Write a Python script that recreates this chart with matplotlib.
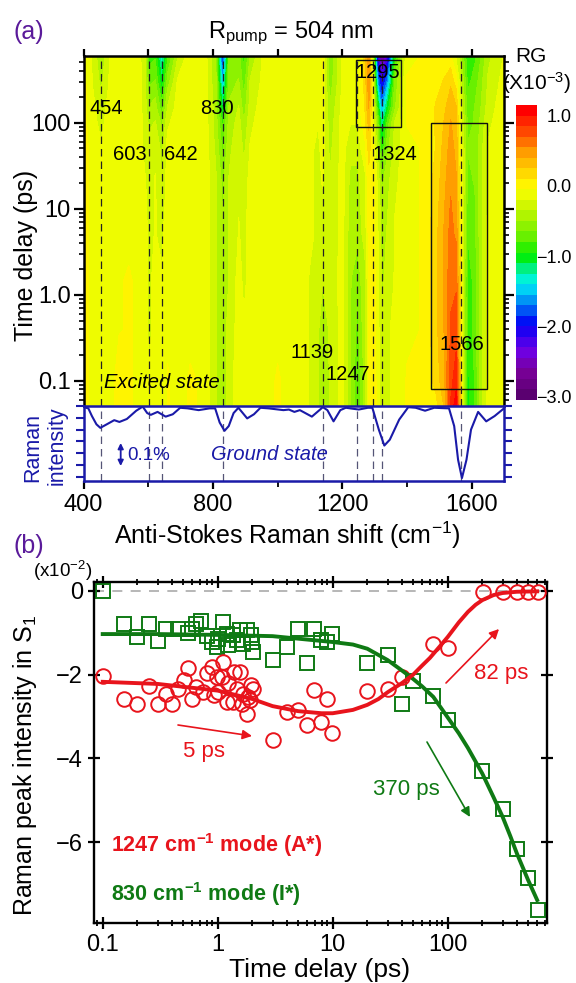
import numpy as np
import matplotlib
matplotlib.use('Agg')
import matplotlib.pyplot as plt
from matplotlib.colors import LinearSegmentedColormap
from matplotlib.patches import Rectangle
from matplotlib.ticker import FixedLocator, LogLocator, NullFormatter

plt.rcParams['font.family'] = ['Liberation Sans', 'DejaVu Sans']
plt.rcParams['mathtext.fontset'] = 'custom'
plt.rcParams['mathtext.rm'] = 'Liberation Sans'
plt.rcParams['mathtext.it'] = 'Liberation Sans:italic'
plt.rcParams['mathtext.bf'] = 'Liberation Sans:bold'

W, H = 576, 983

# panel (a) map, values in units of 1e-3
shift_nodes = [400, 425, 454, 480, 510, 540, 570, 590, 603, 622, 642, 660, 690, 730, 770, 810, 830, 850, 880, 896,
               915, 960, 1000, 1050, 1100, 1125, 1139, 1162, 1200, 1225, 1247, 1270, 1282, 1296, 1310, 1322, 1340,
               1362, 1400, 1450, 1490, 1515, 1535, 1552, 1566, 1588, 1610, 1630, 1650, 1700]
delay_nodes = [0.05, 0.1, 0.4, 1.5, 5, 20, 50, 100, 150, 300, 600]
rg_005 = [-.05, -.1, -.15, -.1, -.05, -.05, -.1, -.2, -.25, -.2, -.25, -.1, -.1, -.05, -.1, -.3, -.5, -.25, -.1, -.2,
          -.15, -.1, -.1, -.1, -.2, -.35, -.5, -.35, -.15, -.45, -.85, -.4, -.1, -.05, -.15, -.35, -.2,
          -.1, -.05, -.05, 0, .2, .8, 1.05, .1, -1.05, -.85, -.35, -.12, -.1]
rg_01 = [-.05, -.1, -.15, -.1, -.05, -.05, -.1, -.2, -.25, -.2, -.25, -.1, -.1, -.05, -.1, -.3, -.5, -.25, -.1, -.2,
         -.15, -.1, -.1, -.1, -.2, -.35, -.5, -.35, -.15, -.45, -.85, -.4, -.1, -.05, -.15, -.35, -.2,
         -.1, -.05, -.05, .1, .3, .75, .85, .1, -1.05, -.85, -.35, -.12, -.1]
rg_04 = [-.05, -.1, -.2, -.1, -.1, -.05, -.1, -.2, -.3, -.2, -.25, -.15, -.1, -.1, -.1, -.3, -.5, -.25, -.15, -.25,
         -.15, -.1, -.15, -.1, -.2, -.35, -.45, -.35, -.15, -.45, -.75, -.35, -.1, -.05, -.2, -.4, -.2,
         -.1, -.1, -.05, .15, .35, .65, .7, .05, -.95, -.8, -.35, -.12, -.1]
rg_15 = [-.05, -.1, -.2, -.1, -.1, -.05, -.1, -.2, -.3, -.2, -.25, -.15, -.1, -.1, -.1, -.3, -.55, -.3, -.15, -.3,
         -.15, -.1, -.15, -.1, -.2, -.35, -.4, -.3, -.15, -.45, -.65, -.35, -.1, -.05, -.2, -.45, -.25,
         -.15, -.1, -.05, .15, .35, .6, .6, 0, -.95, -.8, -.35, -.12, -.1]
rg_5 = [-.05, -.1, -.2, -.1, -.1, -.1, -.1, -.2, -.3, -.25, -.3, -.15, -.1, -.1, -.1, -.3, -.55, -.3, -.2, -.3,
        -.15, -.1, -.15, -.1, -.15, -.25, -.3, -.35, -.15, -.4, -.5, -.25, -.05, -.05, -.25, -.45, -.3,
        -.15, -.1, -.05, .15, .35, .55, .45, -.05, -.85, -.75, -.35, -.12, -.1]
rg_20 = [-.05, -.1, -.2, -.1, -.1, -.1, -.15, -.25, -.3, -.25, -.4, -.2, -.1, -.1, -.1, -.3, -.6, -.3, -.25, -.35,
         -.15, -.1, -.15, -.1, -.15, -.25, -.25, -.35, -.15, -.35, -.45, -.2, 0, -.05, -.3, -.6, -.35,
         -.2, -.1, -.05, .1, .3, .45, .35, -.1, -.75, -.7, -.35, -.15, -.1]
rg_50 = [-.05, -.1, -.25, -.1, -.1, -.1, -.15, -.3, -.35, -.3, -.45, -.2, -.1, -.1, -.1, -.35, -.75, -.35, -.25, -.45,
         -.2, -.1, -.15, -.1, -.15, -.25, -.2, -.4, -.15, -.25, -.35, -.05, .1, -.1, -.5, -1.0, -.5,
         -.25, -.1, -.05, .05, .25, .4, .3, -.15, -.7, -.7, -.35, -.15, -.1]
rg_100 = [-.05, -.15, -.3, -.15, -.1, -.1, -.15, -.3, -.45, -.4, -.6, -.3, -.1, -.1, -.1, -.4, -.9, -.4, -.3, -.55,
          -.25, -.1, -.15, -.1, -.15, -.2, -.15, -.45, -.15, -.15, -.25, .1, .25, -.2, -.7, -1.35, -.7,
          -.3, -.05, 0, .05, .2, .35, .25, -.2, -.75, -.7, -.4, -.2, -.1]
rg_150 = [-.05, -.15, -.35, -.15, -.1, -.1, -.15, -.35, -.55, -.5, -.8, -.4, -.15, -.1, -.1, -.4, -1.2, -.45, -.35, -.65,
          -.3, -.1, -.15, -.1, -.15, -.2, -.15, -.5, -.15, -.1, -.2, .15, .35, -.25, -1.0, -1.7, -1.0,
          -.5, -.05, 0, .05, .15, .3, .2, -.25, -.8, -.7, -.45, -.25, -.1]
rg_300 = [-.05, -.2, -.45, -.2, -.1, -.1, -.15, -.35, -.75, -.7, -1.15, -.65, -.2, -.1, -.1, -.45, -1.6, -.5, -.5, -.8,
          -.35, -.15, -.2, -.1, -.1, -.2, -.1, -.6, -.2, -.1, -.2, .2, .45, -.3, -1.7, -2.2, -1.6,
          -.6, -.05, 0, 0, .05, .15, -.05, -.35, -.9, -.8, -.5, -.3, -.15]
rg_600 = [-.05, -.2, -.55, -.2, -.1, -.1, -.15, -.4, -.95, -.9, -1.45, -.9, -.4, -.1, -.1, -.5, -2.1, -.6, -.6, -.95,
          -.5, -.15, -.2, -.1, -.1, -.2, -.1, -.65, -.2, -.1, -.25, .2, .45, -.5, -2.4, -2.8, -2.3,
          -.9, -.1, -.05, -.05, -.05, -.1, -.3, -.5, -1.0, -.9, -.6, -.35, -.2]
# second pass over the columns, the faint green stripes were read too weak
column_adj = [.06, .01, .06, .01, .04, .01, .03, .06, .06, .06, .06, .06, .01, .01, .04, -.04, .06, -.04, .01, .06,
              .01, .01, .06, .01, -.01, .01, .06, .01, .01, -.04, .06, -.04, .06, .06, .06, .06, -.04,
              -.04, .01, .01, .06, .06, .06, .06, .06, .06, .06, -.04, -.04, .01]

# ground state spectrum, depth in tick steps below the top of the strip
gs_shift = [400, 415, 426, 440, 452, 472, 495, 511, 534, 563, 583, 597, 608, 629, 654, 676, 699, 722, 756, 790, 807,
            821, 836, 849, 864, 879, 906, 927, 947, 972, 1018, 1035, 1052, 1069, 1106, 1140, 1154, 1173, 1194, 1211,
            1251, 1279, 1293, 1313, 1330, 1347, 1376, 1404, 1427, 1456, 1484, 1530, 1546, 1558, 1570, 1584, 1598,
            1620, 1645, 1671, 1700]
gs_depth = [.1, .2, .85, 1.55, 1.85, 1.55, 1.2, 1.35, 1.1, .4, .05, .6, .75, .5, .9, .7, .15, .2, .35, .2, .2,
            1.4, 2.1, 1.7, .6, .15, 1.05, .7, .15, .2, .35, .3, .5, .35, .9, .1, .35, 1.3, .35, .15,
            .3, .15, .15, 2.0, 3.35, 2.85, 1.15, .1, .15, .4, .15, .2, 1.7, 4.55, 6.1, 4.55, 2.0,
            .5, 1.3, .85, .2]
mode_shifts = [454, 603, 642, 830, 1139, 1247, 1295, 1324, 1566]

# panel (b)
red_t = [.1, .153, .2, .255, .305, .353, .403, .455, .51, .556, .6, .648, .75, .8, .887, .93, .98, 1.01, 1.12, 1.08,
         1.2, 1.24, 1.39, 1.37, 1.46, 1.56, 1.62, 1.67, 1.79, 1.85, 1.94, 2.01, 1.91, 3.0, 3.98, 5.03, 5.93, 6.9,
         7.9, 8.87, 9.87, 20, 30, 40, 75, 100, 201, 301, 400, 500, 608]
red_v = [-2.04, -2.59, -2.70, -2.27, -2.69, -2.45, -2.70, -2.33, -2.13, -1.85, -2.57, -2.29, -2.41, -1.97, -1.81,
         -2.49, -2.05, -2.41, -1.69, -2.05, -2.65, -2.21, -1.93, -2.65, -2.33, -1.93, -2.69, -2.45, -2.94, -2.53,
         -2.25, -2.33, -2.61, -3.56, -2.90, -2.85, -3.19, -2.37, -3.14, -2.57, -3.40, -2.39, -2.33, -2.05, -1.27,
         -1.36, -.02, -.02, -.02, -.02, -.02]
green_t = [.1, .153, .2, .255, .305, .353, .455, .556, .6, .648, .71, .8, .887, .98, 1.12, 1.01, 1.2, 1.24, 1.37,
           1.56, 1.67, 1.8, 1.94, 2.04, 1.98, 1.46, 3.0, 3.98, 5.03, 5.93, 6.9, 7.9, 8.87, 9.87, 20, 30, 40, 50, 75,
           100, 200, 300, 400, 500, 608]
green_v = [-.01, -.80, -1.10, -.78, -1.20, -.91, -.91, -1.0, -.90, -.80, -.72, -1.08, -1.22, -1.35, -.74, -1.14,
           -1.02, -1.30, -1.06, -.94, -1.26, -.94, -1.06, -1.46, -1.22, -1.18, -1.64, -1.35, -.90, -1.72, -.90,
           -1.18, -1.22, -1.02, -1.72, -1.54, -2.69, -2.15, -2.51, -3.09, -4.30, -5.21, -6.17, -6.85, -7.62]
red_fit_t = [.1, .3, 1, 2, 3, 5, 8, 10, 15, 20, 25, 30, 40, 50, 60, 70, 85, 100, 125, 150, 175, 200, 250, 300, 400, 600]
red_fit_v = [-2.17, -2.22, -2.38, -2.58, -2.75, -2.87, -2.92, -2.92, -2.84, -2.72, -2.58, -2.42, -2.2, -2.0, -1.78,
             -1.6, -1.33, -1.1, -.75, -.5, -.33, -.22, -.1, -.05, -.02, -.01]
green_fit_t = [.1, .3, 1, 3, 10, 15, 20, 30, 40, 50, 60, 75, 100, 125, 150, 200, 250, 300, 350, 400, 500, 600]
green_fit_v = [-1.03, -1.03, -1.05, -1.08, -1.22, -1.28, -1.38, -1.65, -1.9, -2.1, -2.28, -2.53, -3.02, -3.4, -3.75,
               -4.36, -4.92, -5.39, -5.85, -6.27, -6.9, -7.38]

RED = '#e8141c'
GREEN = '#0f7a14'
BLUE = '#1a1aa8'
PURPLE = '#5a1a9a'


def box(l, t, r, b):
    return [l / W, 1 - b / H, (r - l) / W, (b - t) / H]


def px(x, y):
    return x / W, 1 - y / H


fig = plt.figure(figsize=(W / 100, H / 100), dpi=100)
ax_map = fig.add_axes(box(83.5, 56, 504, 406))
ax_gs = fig.add_axes(box(83.5, 406, 504, 481))
cax = fig.add_axes(box(516, 105, 537, 400))
ax_b = fig.add_axes(box(94.3, 581.7, 546.7, 922.7))

# rainbow map with stepped levels as on the bar
anchors = [(-3.05, '#5a0070'), (-2.7, '#7a0098'), (-2.4, '#6e00e6'), (-2.0, '#0000f5'), (-1.7, '#0082f5'),
           (-1.4, '#00f5f5'), (-1.2, '#00f08c'), (-1.0, '#00ee00'), (-.7, '#6ef000'), (-.3, '#c8f500'),
           (0, '#ffff00'), (.2, '#ffdc00'), (.5, '#ffa500'), (.8, '#ff5000'), (1.15, '#ff0000')]
stops = [min(1.0, max(0.0, round((v + 3.05) / 4.2, 6))) for v, c in anchors]
cmap = LinearSegmentedColormap.from_list('rg', list(zip(stops, [c for v, c in anchors])), N=28)
levels = np.linspace(-3.05, 1.15, 29)
rg = np.array([rg_005, rg_01, rg_04, rg_15, rg_5, rg_20, rg_50, rg_100, rg_150, rg_300, rg_600]) + np.array(column_adj)
cf = ax_map.contourf(shift_nodes, delay_nodes, rg, levels=levels, cmap=cmap)
ax_map.set_yscale('log')
ax_map.set_xlim(400, 1700)
ax_map.set_ylim(0.0508, 594)

for s in mode_shifts:
    ax_map.axvline(s, color='#222222', lw=0.9, dashes=(6, 4))
    ax_gs.axvline(s, color='#555577', lw=0.9, dashes=(6, 4))

ax_map.add_patch(Rectangle((1241, 89.6), 140, 535 - 89.6, fill=False, ec='#111111', lw=1))
ax_map.add_patch(Rectangle((1475, 0.08), 171, 100 - 0.08, fill=False, ec='#111111', lw=1))

ax_map.xaxis.set_major_locator(FixedLocator([400, 600, 800, 1000, 1200, 1400, 1600]))
ax_map.xaxis.tick_top()
ax_map.tick_params(axis='x', labeltop=False, length=5, width=1.6, direction='out')
ax_map.yaxis.set_major_locator(FixedLocator([0.1, 1, 10, 100]))
ax_map.set_yticklabels(['0.1', '1.0', '10', '100'])
ax_map.yaxis.set_minor_locator(LogLocator(base=10, subs=range(2, 10), numticks=12))
ax_map.yaxis.set_minor_formatter(NullFormatter())
ax_map.tick_params(axis='y', which='major', left=True, right=True, length=7, width=1.6, labelsize=17, pad=2)
ax_map.tick_params(axis='y', which='minor', left=True, right=True, length=3.5, width=1.2)
for side in ['left', 'top', 'right']:
    ax_map.spines[side].set_linewidth(1.8)
ax_map.spines['bottom'].set_visible(False)

ax_gs.plot(gs_shift, gs_depth, color=BLUE, lw=1.5)
ax_gs.set_xlim(400, 1700)
ax_gs.set_ylim(6.35, 0)
ax_gs.xaxis.set_major_locator(FixedLocator([400, 800, 1200, 1600]))
ax_gs.xaxis.set_minor_locator(FixedLocator([600, 1000, 1400]))
ax_gs.set_xticklabels(['400', '800', '1200', '1600'])
ax_gs.tick_params(axis='x', which='major', length=6, width=1.6, labelsize=17, pad=3)
ax_gs.tick_params(axis='x', which='minor', length=4, width=1.3)
ax_gs.yaxis.set_major_locator(FixedLocator(range(7)))
ax_gs.set_yticklabels([])
ax_gs.tick_params(axis='y', left=True, right=True, length=6, width=1.5, color=BLUE)
for side in ax_gs.spines:
    ax_gs.spines[side].set_color(BLUE)
    ax_gs.spines[side].set_linewidth(1.8)

cb = fig.colorbar(cf, cax=cax, ticks=[-3, -2, -1, 0, 1])
cb.ax.set_yticklabels(['\u22123.0', '\u22122.0', '\u22121.0', '0.0', '1.0'], fontsize=13, ha='right')
cb.ax.tick_params(length=0, pad=25)
cb.outline.set_visible(False)

# panel (b)
ax_b.axhline(0, color='#aaaaaa', lw=1.2, dashes=(6, 5), zorder=1)
ax_b.plot(green_t, green_v, 's', mfc='none', mec=GREEN, ms=10, mew=1.4, zorder=2)
ax_b.plot(red_t, red_v, 'o', mfc='none', mec=RED, ms=10.5, mew=1.4, zorder=3)
ax_b.plot(green_fit_t, green_fit_v, color=GREEN, lw=2.8, zorder=4)
ax_b.plot(red_fit_t, red_fit_v, color=RED, lw=2.8, zorder=5)
ax_b.set_xscale('log')
ax_b.set_xlim(0.0845, 726)
ax_b.set_ylim(-7.92, 0.22)
ax_b.xaxis.set_major_locator(FixedLocator([0.1, 1, 10, 100]))
ax_b.set_xticklabels(['0.1', '1', '10', '100'])
ax_b.xaxis.set_minor_locator(LogLocator(base=10, subs=range(2, 10), numticks=12))
ax_b.xaxis.set_minor_formatter(NullFormatter())
ax_b.yaxis.set_major_locator(FixedLocator([-6, -4, -2, 0]))
ax_b.set_yticklabels(['\u22126', '\u22124', '\u22122', '0'])
ax_b.tick_params(axis='both', which='major', top=True, right=True, direction='inout', length=9, width=1.6,
                 labelsize=17)
ax_b.tick_params(axis='x', which='minor', top=True, direction='inout', length=5, width=1.3)
for side in ax_b.spines:
    ax_b.spines[side].set_linewidth(1.7)

ax_b.annotate('', xy=px(252, 736), xytext=px(178, 725), xycoords='figure fraction', textcoords='figure fraction',
              arrowprops=dict(arrowstyle='-|>', color=RED, lw=1.2, mutation_scale=14, shrinkA=0, shrinkB=0))
ax_b.annotate('', xy=px(499, 629), xytext=px(446, 683), xycoords='figure fraction', textcoords='figure fraction',
              arrowprops=dict(arrowstyle='-|>', color=RED, lw=1.2, mutation_scale=14, shrinkA=0, shrinkB=0))
ax_b.annotate('', xy=px(470, 817), xytext=px(427, 742), xycoords='figure fraction', textcoords='figure fraction',
              arrowprops=dict(arrowstyle='-|>', color=GREEN, lw=1.2, mutation_scale=14, shrinkA=0, shrinkB=0))
ax_gs.annotate('', xy=px(120.7, 466), xytext=px(120.7, 443), xycoords='figure fraction', textcoords='figure fraction',
               arrowprops=dict(arrowstyle='<|-|>', color=BLUE, lw=1.3, mutation_scale=8, shrinkA=0, shrinkB=0))


def label(x, y, s, **kw):
    kw.setdefault('ha', 'center')
    kw.setdefault('va', 'center')
    kw.setdefault('fontsize', 14.5)
    fx, fy = px(x, y)
    fig.text(fx, fy, s, **kw)


label(29, 32, '(a)', color=PURPLE, fontsize=18)
label(29, 546, '(b)', color=PURPLE, fontsize=18)
label(291, 33, r'R$_{\mathrm{pump}}$ = 504 nm', fontsize=17)
label(531, 57, 'RG', fontsize=15)
label(537, 83, r'(X10$^{-3}$)', fontsize=15)
label(106, 108, '454')
label(217, 108, '830')
label(129.5, 155, '603')
label(181, 155, '642')
label(377.6, 72, '1295')
label(395, 155, '1324')
label(312.5, 352, '1139')
label(347.4, 375, '1247')
label(462, 344, '1566')
label(162, 382, 'Excited state', style='italic', fontsize=14.5)
label(149, 455, '0.1%', color=BLUE, fontsize=13.5)
label(269, 455, 'Ground state', style='italic', color=BLUE, fontsize=14.5)
label(26, 255, 'Time delay (ps)', rotation=90, fontsize=18)
label(33, 447, 'Raman', rotation=90, color=BLUE, fontsize=15.5)
label(57, 446, 'intensity', rotation=90, color=BLUE, fontsize=15.5)
label(287, 535, r'Anti-Stokes Raman shift (cm$^{-1}$)', fontsize=18)
label(63, 571, r'(x10$^{-2}$)', fontsize=13.5)
label(25, 765, r'Raman peak intensity in S$_1$', rotation=90, fontsize=18)
label(320, 970, 'Time delay (ps)', fontsize=19)
label(204, 752, '5 ps', color=RED, fontsize=16)
label(501, 673, '82 ps', color=RED, fontsize=16)
label(406, 789, '370 ps', color=GREEN, fontsize=16)
label(111, 845, r'1247 cm$\mathbf{^{-1}}$ mode (A*)', color=RED, fontweight='bold', ha='left', fontsize=15.5)
label(111, 894, r'830 cm$\mathbf{^{-1}}$ mode (I*)', color=GREEN, fontweight='bold', ha='left', fontsize=15.5)

fig.savefig('out.png', dpi=100)
